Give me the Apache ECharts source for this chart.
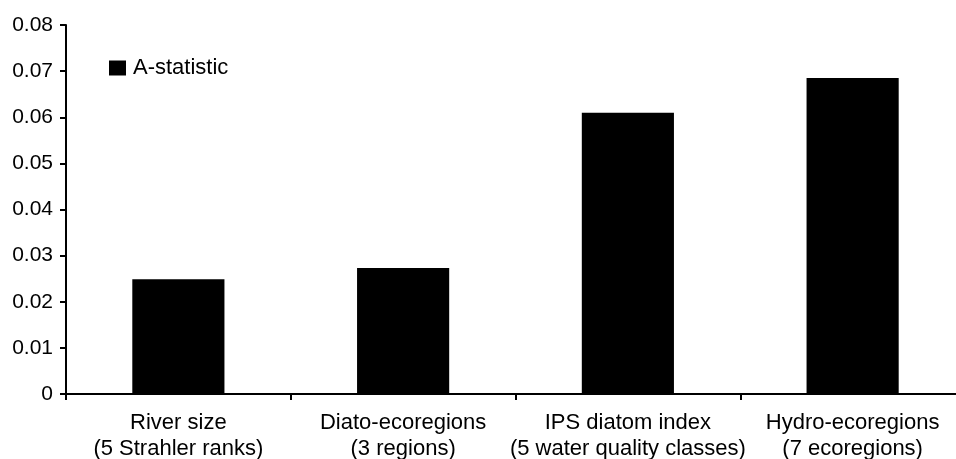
<!DOCTYPE html>
<html><head><meta charset="utf-8">
<script src="https://cdn.jsdelivr.net/npm/echarts@6/dist/echarts.min.js"></script>
<style>html,body{margin:0;padding:0;background:#fff}#c{width:956px;height:459px}</style>
</head><body><div id="c"></div>
<script>
const categories = ["River size\n(5 Strahler ranks)", "Diato-ecoregions\n(3 regions)", "IPS diatom index\n(5 water quality classes)", "Hydro-ecoregions\n(7 ecoregions)"];
const aStatistic = [0.0249, 0.0273, 0.0610, 0.0685];
const yTicks = { min: 0, max: 0.08, interval: 0.01 };
const chart = echarts.init(document.getElementById('c'));
const font = 'Liberation Sans, Arial, sans-serif';
chart.setOption({
  animation: false,
  grid: { left: 66, top: 25, width: 899, height: 369, containLabel: false, outerBoundsMode: 'none' },
  legend: {
    left: 109, top: 57, padding: 0, itemWidth: 17, itemHeight: 15, itemGap: 6,
    icon: 'rect',
    textStyle: { fontFamily: font, fontSize: 22, color: '#000', padding: [0,0,0,2] },
    data: ['A-statistic']
  },
  xAxis: {
    type: 'category', data: categories,
    axisLine: { lineStyle: { color: '#000', width: 2 } },
    axisTick: { show: true, length: 6, lineStyle: { color: '#000', width: 2 } },
    axisLabel: { interval: 0, fontFamily: font, fontSize: 22, color: '#000', lineHeight: 26, margin: 16 }
  },
  yAxis: {
    type: 'value', min: yTicks.min, max: yTicks.max, interval: yTicks.interval,
    splitLine: { show: false },
    axisLine: { show: true, lineStyle: { color: '#000', width: 2 } },
    axisTick: { show: true, length: 6, lineStyle: { color: '#000', width: 2 } },
    axisLabel: { fontFamily: font, fontSize: 21, color: '#000', margin: 13,
      formatter: v => v === 0 ? '0' : v.toFixed(2) }
  },
  series: [{
    name: 'A-statistic', type: 'bar', data: aStatistic,
    barWidth: '41%', itemStyle: { color: '#000' }
  }]
});
</script></body></html>
